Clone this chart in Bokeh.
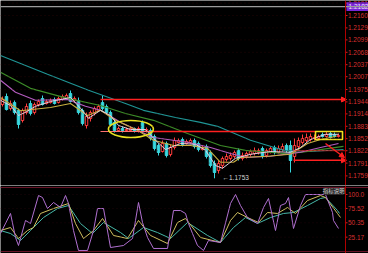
from bokeh.plotting import figure
from bokeh.layouts import column
from bokeh.models import ColumnDataSource, Span, Arrow, NormalHead, Range1d
from bokeh.core.properties import value
from bokeh.embed import file_html
from bokeh.resources import INLINE

# ---------------- data ----------------
bar_index = list(range(85))
open_ = [1.19375, 1.19575, 1.19275, 1.19425, 1.19225, 1.18975, 1.19175, 1.194, 1.19175, 1.19375,
         1.19525, 1.194, 1.19425, 1.195, 1.19425, 1.195, 1.19525, 1.1965, 1.19475, 1.19475,
         1.19225, 1.1885, 1.19025, 1.1915, 1.19225, 1.19425, 1.19325, 1.19175, 1.18925, 1.18725,
         1.18775, 1.18725, 1.18725, 1.18775, 1.187, 1.18925, 1.187, 1.18725, 1.18575, 1.1835,
         1.182, 1.184, 1.18125, 1.183, 1.18425, 1.185, 1.184, 1.18425, 1.18475, 1.184,
         1.1825, 1.18325, 1.18175, 1.179, 1.17725, 1.1785, 1.18, 1.18025, 1.18075, 1.18225,
         1.18025, 1.18075, 1.18125, 1.1815, 1.18175, 1.18275, 1.181, 1.182, 1.183, 1.18175,
         1.1825, 1.1835, 1.1835, 1.18075, 1.18325, 1.18425, 1.18475, 1.185, 1.18525, 1.18525,
         1.18625, 1.18575, 1.1865, 1.18625, 1.18575]
close = [1.195, 1.1925, 1.194, 1.19175, 1.18875, 1.19225, 1.19325, 1.1915, 1.19375, 1.1945,
         1.19375, 1.1945, 1.19475, 1.194, 1.19525, 1.19575, 1.196, 1.1945, 1.19525, 1.19175,
         1.189, 1.19075, 1.19175, 1.19275, 1.19325, 1.19275, 1.19175, 1.18875, 1.18725, 1.18775,
         1.18725, 1.1875, 1.18775, 1.187, 1.18775, 1.187, 1.1875, 1.18525, 1.18275, 1.18175,
         1.184, 1.181, 1.183, 1.18475, 1.18475, 1.18375, 1.1845, 1.18475, 1.18325, 1.1825,
         1.183, 1.18075, 1.1785, 1.17675, 1.179, 1.18025, 1.18075, 1.181, 1.18175, 1.18025,
         1.181, 1.1815, 1.182, 1.18225, 1.18225, 1.18075, 1.18225, 1.18275, 1.18175, 1.18275,
         1.18325, 1.18225, 1.17975, 1.1835, 1.18475, 1.18525, 1.1855, 1.18575, 1.1855, 1.18575,
         1.18575, 1.18625, 1.1855, 1.18575, 1.186]
high = [1.19575, 1.1965, 1.19475, 1.19475, 1.19275, 1.19275, 1.194, 1.19475, 1.19425, 1.195,
        1.196, 1.195, 1.19525, 1.1955, 1.19575, 1.19625, 1.1965, 1.19725, 1.19575, 1.1955,
        1.19275, 1.19175, 1.19225, 1.19325, 1.19375, 1.196, 1.19375, 1.19225, 1.18975, 1.18825,
        1.18825, 1.188, 1.18825, 1.188, 1.18825, 1.18975, 1.188, 1.18775, 1.18625, 1.184,
        1.18475, 1.1845, 1.18375, 1.1855, 1.18525, 1.1855, 1.185, 1.18525, 1.18525, 1.1845,
        1.1835, 1.18375, 1.18225, 1.17975, 1.17975, 1.18075, 1.1815, 1.18175, 1.18225, 1.18275,
        1.18175, 1.182, 1.1825, 1.183, 1.18275, 1.18325, 1.18275, 1.18325, 1.1835, 1.1835,
        1.184, 1.184, 1.18475, 1.18525, 1.1855, 1.18625, 1.1865, 1.1865, 1.18625, 1.18625,
        1.18675, 1.187, 1.187, 1.18675, 1.1865]
low = [1.19325, 1.19225, 1.19225, 1.19125, 1.18775, 1.18925, 1.19125, 1.191, 1.19125, 1.19325,
       1.1935, 1.19375, 1.194, 1.19375, 1.194, 1.19475, 1.195, 1.19425, 1.19425, 1.19125,
       1.1885, 1.18775, 1.1895, 1.191, 1.192, 1.19225, 1.19125, 1.18825, 1.18675, 1.187,
       1.18675, 1.187, 1.187, 1.18675, 1.18675, 1.1865, 1.18675, 1.18475, 1.18225, 1.181,
       1.18175, 1.1805, 1.18075, 1.1825, 1.184, 1.18325, 1.18375, 1.184, 1.18275, 1.182,
       1.18225, 1.18025, 1.178, 1.1753, 1.1765, 1.17775, 1.1795, 1.17975, 1.18025, 1.17975,
       1.17975, 1.18025, 1.18075, 1.181, 1.18125, 1.18025, 1.1805, 1.1815, 1.18125, 1.1815,
       1.182, 1.18175, 1.17675, 1.17925, 1.18275, 1.18375, 1.18425, 1.1845, 1.18475, 1.185,
       1.1855, 1.1855, 1.18525, 1.1855, 1.1855]

# moving averages (vertices)
ma_white_x = [-0.5, 2, 4, 5.75, 8.25, 12, 17, 19.5, 21.5, 24.5, 27, 29, 32, 35.75, 38.25, 40.75,
              44.5, 48.25, 50.75, 53.25, 55, 58.25, 62, 67, 72, 74.5, 77, 80.75, 84]
ma_white_y = [1.1948, 1.1935, 1.191, 1.1918, 1.1933, 1.1945, 1.1955, 1.1928, 1.1903, 1.1923, 1.191,
              1.1885, 1.1875, 1.1875, 1.1848, 1.1825, 1.184, 1.1838, 1.1823, 1.1785, 1.1778, 1.1803,
              1.1813, 1.182, 1.1818, 1.183, 1.185, 1.1863, 1.1863]
ma_yellow_x = [-0.5, 4.5, 12, 17, 21.25, 24.5, 28.25, 33.75, 37.75, 42.75, 47, 51.25, 54.5, 57.75,
               59.5, 66.25, 72, 76.25, 79.5, 83.5]
ma_yellow_y = [1.1955, 1.1922, 1.193, 1.194, 1.191, 1.1923, 1.1898, 1.1873, 1.1848, 1.1835, 1.1835,
               1.1828, 1.1793, 1.1793, 1.1805, 1.1808, 1.1813, 1.184, 1.185, 1.1858]
ma_purple_x = [-0.5, 3.25, 8.25, 16.25, 20.75, 24.5, 29.5, 33.75, 37.75, 46.25, 52, 57, 60.75, 67,
               74.5, 79.5, 84]
ma_purple_y = [1.1998, 1.1968, 1.1948, 1.195, 1.1933, 1.1923, 1.1893, 1.1873, 1.1855, 1.1843, 1.183,
               1.1815, 1.1805, 1.1808, 1.1818, 1.183, 1.184]
ma_green_x = [-0.5, 7, 16.25, 24.5, 30.75, 37.75, 46.25, 54.5, 60.75, 70.25, 74.5, 85.25]
ma_green_y = [1.2018, 1.1978, 1.1953, 1.1935, 1.1915, 1.1898, 1.1865, 1.1835, 1.1823, 1.1815, 1.1818,
              1.1833]
ma_teal_x = [-0.5, 11.25, 21.5, 30.75, 35.25, 43.25, 49.5, 53.75, 62, 70.25, 77, 85.25]
ma_teal_y = [1.2060, 1.2013, 1.1973, 1.1940, 1.1923, 1.1905, 1.1893, 1.1883, 1.1848, 1.1823, 1.1820,
             1.1825]

# indicator panel (K, D, J)
j_x = [-0.5, 2, 3.25, 4, 5.75, 7, 9, 10, 11.25, 12.75, 14.5, 15.75, 16.5, 17.75, 19, 21.25, 22.75,
       23.75, 25.25, 27, 30.25, 32.5, 33.25, 34, 35, 36.25, 37.75, 41.25, 42.75, 44.5, 45.75, 46.5,
       47.5, 48.75, 50.25, 51.5, 54.5, 57, 58.25, 59.5, 61.25, 63.75, 65.25, 66.5, 68.25, 69.5,
       70.75, 71.5, 72.75, 74.5, 75.75, 80.75, 82.5, 82.75, 84]
j_v = [31.6, 66.7, 24.6, 10.5, 54.4, 49.1, 98.2, 94.7, 75.4, 86.0, 77.2, 98.2, 84.2, 36.8, 1.8, 1.8,
       36.8, 75.4, 75.4, 7.0, 10.5, 22.8, 54.4, 86.0, 50.9, 24.6, 5.3, 5.3, 71.9, 71.9, 66.7, 49.1,
       31.6, 10.5, 1.8, 19.3, 15.8, 84.2, 100.0, 80.7, 59.6, 49.1, 77.2, 93.0, 36.8, 80.7, 84.2,
       94.7, 40.4, 80.7, 100.0, 100.0, 68.4, 54.4, 40.4]
k_x = [-0.5, 2, 4, 6.25, 7.75, 9.5, 12.75, 16.5, 18.25, 20.25, 22.75, 25, 27.75, 31.25, 34, 37,
       41.25, 43.75, 45.75, 49.5, 54.5, 57, 58.75, 61.25, 64, 66.25, 68.75, 71.25, 73.25, 76.25,
       79.5, 80.75, 83.75, 84.5]
k_v = [36.8, 42.1, 22.8, 36.8, 42.1, 66.7, 75.4, 84.2, 49.1, 22.8, 36.8, 57.9, 28.1, 22.8, 54.4,
       28.1, 14.0, 50.9, 57.9, 24.6, 15.8, 54.4, 68.4, 59.6, 50.9, 68.4, 66.7, 77.2, 66.7, 89.5,
       98.2, 94.7, 66.7, 59.6]
d_x = [-0.5, 2, 4.5, 7, 10.25, 13.75, 16.5, 19.5, 22.5, 25.25, 29.5, 31.5, 35.25, 38.75, 42,
       46.25, 51.25, 54.5, 57.75, 60.75, 63.75, 67, 70.25, 72.75, 76.25, 79.5, 80.75, 83.75, 84.25]
d_v = [36.8, 31.6, 19.3, 36.8, 59.6, 75.4, 80.7, 49.1, 31.6, 50.9, 33.3, 22.8, 42.1, 33.3, 22.8,
       50.9, 28.1, 15.8, 42.1, 59.6, 49.1, 59.6, 66.7, 68.4, 80.7, 93.0, 94.7, 71.9, 66.7]

price_ticks = [1.2191, 1.2160, 1.2129, 1.2099, 1.2068, 1.2037, 1.2007, 1.1975, 1.1944, 1.1914,
               1.1883, 1.1852, 1.1822, 1.1791, 1.1759]
ind_ticks = [100.0, 75.52, 50.35, 25.17]
ind_tick_labels = ["100.0", "75.52", "50.35", "25.17"]
last_price = 1.2182
low_label = "\u2190" + "1.1753"
low_label_pos = (55, 1.1755)
ind_title = "指标说明"

# drawn annotations (levels)
level_price = [1.1950, 1.1870, 1.1822, 1.1798]
level_start = [24.5, 37.5, 72.75, 72.75]
level_end = [86.0, 78.25, 86.0, 86.0]
level_arrow = [True, False, False, True]
thin_seg = (24.5, 37.5, 1.1870)
ellipse_c = (32.1, 1.18763, 11.25, 0.00425)
box = (78.25, 85.0, 1.1870, 1.1850)
diag = (80.75, 1.1840, 85.5, 1.1805)

# ---------------- figures ----------------
W = 368
X0, X1 = -0.5, 91.5
AXIS_X = 85.75

def base(h, y0, y1):
    p = figure(width=W, height=h, output_backend="svg", toolbar_location=None,
               x_range=Range1d(X0, X1), y_range=Range1d(y0, y1),
               x_axis_type=None, y_axis_type=None, min_border=0)
    p.background_fill_color = "black"
    p.border_fill_color = "black"
    p.outline_line_color = None
    p.xgrid.visible = False
    p.ygrid.visible = False
    return p

p = base(185, 1.17350, 1.21975)

# faint grid
for t in price_ticks:
    p.add_layout(Span(location=t, dimension="width", line_color="#3a0808", line_width=1,
                      line_dash="1 3", line_alpha=0.6))

# last price line
p.add_layout(Span(location=last_price, dimension="width", line_color="#9a9a9a", line_width=1.2))

# candles
inc = [c >= o for o, c in zip(open_, close)]
src = ColumnDataSource(dict(
    x=bar_index, top=[max(o, c) for o, c in zip(open_, close)],
    bottom=[min(o, c) for o, c in zip(open_, close)], high=high, low=low,
    col=["#ff3c3c" if u else "#39d8e0" for u in inc],
    fill=["#000000" if u else "#39d8e0" for u in inc]))
p.segment(x0="x", y0="high", x1="x", y1="low", source=src, line_color="col", line_width=1)
p.vbar(x="x", top="top", bottom="bottom", width=0.62, source=src, fill_color="fill",
       line_color="col", line_width=1)

# moving averages
p.line(ma_teal_x, ma_teal_y, line_color="#1f9494", line_width=1.2)
p.line(ma_green_x, ma_green_y, line_color="#3c8c28", line_width=1.2)
p.line(ma_purple_x, ma_purple_y, line_color="#b45cc0", line_width=1.1)
p.line(ma_yellow_x, ma_yellow_y, line_color="#c8b040", line_width=1.1)
p.line(ma_white_x, ma_white_y, line_color="#e0d0e0", line_width=1.0)

# level lines
p.segment(x0=[thin_seg[0]], y0=[thin_seg[2]], x1=[thin_seg[1]], y1=[thin_seg[2]],
          line_color="#ff7070", line_width=1)
for lp, ls, le, la in zip(level_price, level_start, level_end, level_arrow):
    if la:
        p.add_layout(Arrow(end=NormalHead(size=5, fill_color="#ff2020", line_color="#ff2020"),
                           x_start=ls, y_start=lp, x_end=le, y_end=lp,
                           line_color="#ff2020", line_width=1.6))
    else:
        wdt = 1.6 if lp > 1.185 else 1.0
        p.segment(x0=[ls], y0=[lp], x1=[le], y1=[lp], line_color="#ff2020", line_width=wdt,
                  line_alpha=1.0 if lp > 1.185 else 0.75)

p.add_layout(Arrow(end=NormalHead(size=5, fill_color="#ff2020", line_color="#ff2020"),
                   x_start=diag[0], y_start=diag[1], x_end=diag[2], y_end=diag[3],
                   line_color="#ff2020", line_width=1.4))

p.ellipse(x=[ellipse_c[0]], y=[ellipse_c[1]], width=ellipse_c[2], height=ellipse_c[3],
          fill_color=None, line_color="#e8e020", line_width=1.6)
p.quad(left=[box[0]], right=[box[1]], top=[box[2]], bottom=[box[3]], fill_color=None,
       line_color="#f0e020", line_width=1.6)

p.text(x=[low_label_pos[0]], y=[low_label_pos[1]], text=[low_label], text_font=value("Liberation Sans"),
       text_font_size="6.5px", text_color="#d8d8d8", text_baseline="middle", text_align="left")

# right axis
p.add_layout(Span(location=AXIS_X, dimension="height", line_color="#b00000", line_width=1))
p.segment(x0=[AXIS_X] * len(price_ticks), y0=price_ticks, x1=[AXIS_X + 0.5] * len(price_ticks),
          y1=price_ticks, line_color="#d02020", line_width=1)
p.text(x=[AXIS_X + 0.6] * len(price_ticks), y=price_ticks, text=["%.4f" % t for t in price_ticks],
       text_font=value("Liberation Sans"), text_font_size="6.5px", text_color="#d83030",
       text_baseline="middle", text_align="left")
p.quad(left=[86.0], right=[X1], top=[last_price + 0.0011], bottom=[last_price - 0.0011],
       fill_color="#7a26d8", line_color=None)
p.text(x=[86.5], y=[last_price], text=["%.4f" % last_price], text_font=value("Liberation Sans"),
       text_font_size="6.5px", text_color="#f0e0ff", text_baseline="middle", text_align="left")

# ---------------- indicator panel ----------------
q = base(68, -3.51, 115.79)
q.add_layout(Span(location=112.3, dimension="width", line_color="#6a1428", line_width=1))
q.add_layout(Span(location=0.0, dimension="width", line_color="#6a1428", line_width=1))
for t in ind_ticks:
    q.add_layout(Span(location=t, dimension="width", line_color="#300810", line_width=1,
                      line_dash="1 3", line_alpha=0.6))
q.line(d_x, d_v, line_color="#46b8a8", line_width=1)
q.line(k_x, k_v, line_color="#d0c060", line_width=1)
q.line(j_x, j_v, line_color="#b070d0", line_width=1)

q.add_layout(Span(location=AXIS_X, dimension="height", line_color="#b00000", line_width=1))
q.segment(x0=[AXIS_X] * 4, y0=ind_ticks, x1=[AXIS_X + 0.5] * 4, y1=ind_ticks,
          line_color="#d02020", line_width=1)
q.text(x=[AXIS_X + 0.6] * 4, y=ind_ticks, text=ind_tick_labels, text_font=value("Liberation Sans"),
       text_font_size="6.5px", text_color="#d83030", text_baseline="middle", text_align="left")
q.quad(left=[80.3], right=[85.3], top=[113.5], bottom=[99.0], fill_color="#2a2a2a", line_color=None)
q.text(x=[82.8], y=[106.2], text=[ind_title], text_font=value("Noto Sans CJK SC"),
       text_font_size="5.5px", text_color="#d0d0d0", text_baseline="middle", text_align="center")

layout = column(p, q, spacing=0)
open("out.html", "w").write(file_html(layout, INLINE))
